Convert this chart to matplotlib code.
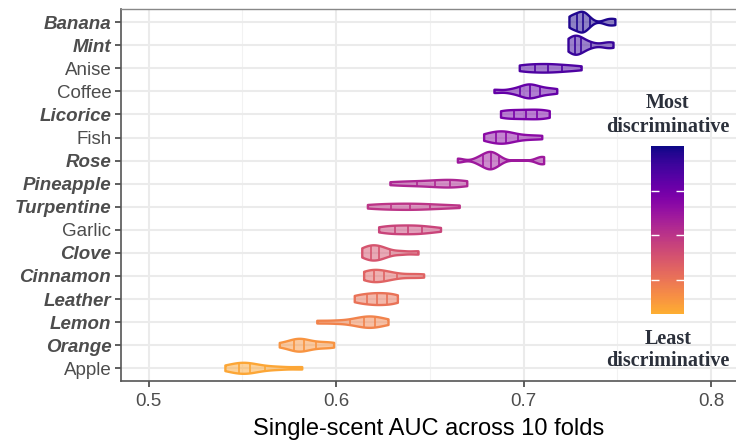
import numpy as np
import matplotlib
matplotlib.use("Agg")
import matplotlib.pyplot as plt
from matplotlib.colors import ListedColormap, Normalize
from matplotlib.cm import ScalarMappable

# ---------------- data ----------------
scents = ["Banana", "Mint", "Anise", "Coffee", "Licorice", "Fish", "Rose",
          "Pineapple", "Turpentine", "Garlic", "Clove", "Cinnamon",
          "Leather", "Lemon", "Orange", "Apple"]
bold_labels = [True, True, False, False, True, False, True, True, True,
               False, True, True, True, True, True, False]

# single-scent AUC per fold (10 folds)
auc_banana = [0.7245, 0.726, 0.728, 0.730, 0.731, 0.732, 0.733, 0.735, 0.745, 0.749]
auc_mint = [0.724, 0.725, 0.727, 0.728, 0.729, 0.730, 0.732, 0.736, 0.744, 0.748]
auc_anise = [0.698, 0.700, 0.704, 0.708, 0.711, 0.714, 0.717, 0.721, 0.726, 0.731]
auc_coffee = [0.6845, 0.694, 0.699, 0.701, 0.703, 0.704, 0.706, 0.709, 0.713, 0.718]
auc_licorice = [0.688, 0.690, 0.693, 0.697, 0.700, 0.703, 0.706, 0.709, 0.712, 0.714]
auc_fish = [0.679, 0.682, 0.685, 0.687, 0.689, 0.691, 0.693, 0.697, 0.703, 0.710]
auc_rose = [0.665, 0.676, 0.679, 0.681, 0.682, 0.683, 0.685, 0.687, 0.709, 0.711]
auc_pineapple = [0.629, 0.636, 0.642, 0.648, 0.653, 0.657, 0.660, 0.663, 0.666, 0.670]
auc_turpentine = [0.617, 0.622, 0.627, 0.632, 0.637, 0.641, 0.645, 0.650, 0.657, 0.666]
auc_garlic = [0.623, 0.627, 0.630, 0.633, 0.637, 0.640, 0.643, 0.646, 0.650, 0.656]
auc_clove = [0.614, 0.616, 0.618, 0.620, 0.621, 0.623, 0.625, 0.628, 0.635, 0.644]
auc_cinnamon = [0.615, 0.617, 0.619, 0.621, 0.623, 0.625, 0.628, 0.632, 0.640, 0.647]
auc_leather = [0.610, 0.613, 0.616, 0.619, 0.621, 0.623, 0.626, 0.628, 0.631, 0.633]
auc_lemon = [0.590, 0.600, 0.608, 0.612, 0.615, 0.617, 0.619, 0.621, 0.624, 0.628]
auc_orange = [0.570, 0.576, 0.578, 0.580, 0.581, 0.583, 0.586, 0.590, 0.595, 0.599]
auc_apple = [0.541, 0.545, 0.548, 0.550, 0.552, 0.554, 0.557, 0.562, 0.570, 0.582]

auc_folds = [auc_banana, auc_mint, auc_anise, auc_coffee, auc_licorice, auc_fish,
             auc_rose, auc_pineapple, auc_turpentine, auc_garlic, auc_clove,
             auc_cinnamon, auc_leather, auc_lemon, auc_orange, auc_apple]

x_ticks = [0.5, 0.6, 0.7, 0.8]
x_minor = [0.55, 0.65, 0.75]
quantile_levels = [0.25, 0.5, 0.75]
legend_breaks = [0.2, 0.47, 0.73]

# ---------------- helpers ----------------
def violin_density(vals):
    x = np.asarray(vals, dtype=float)
    n = len(x)
    sd = x.std(ddof=1)
    q75, q25 = np.percentile(x, [75, 25])
    bw = 0.9 * min(sd, (q75 - q25) / 1.34) * n ** -0.2
    grid = np.linspace(x.min(), x.max(), 512)
    d = np.exp(-0.5 * ((grid[:, None] - x[None, :]) / bw) ** 2).sum(1)
    d /= n * bw * np.sqrt(2 * np.pi)
    return grid, d

plasma = plt.get_cmap("plasma")
n_sc = len(scents)
colors = [plasma(0.03 + 0.77 * i / (n_sc - 1)) for i in range(n_sc)]

# ---------------- figure ----------------
fig = plt.figure(figsize=(7.36, 4.41), dpi=100)
ax = fig.add_axes([121 / 736, 1 - 381 / 441, 1 - 121 / 736, (381 - 9) / 441])

dens = [violin_density(v) for v in auc_folds]
dmax = max(d.max() for _, d in dens)

for i, ((g, d), col) in enumerate(zip(dens, colors)):
    hw = 0.45 * d / dmax
    xs = np.concatenate([g, g[::-1]])
    ys = np.concatenate([i - hw, (i + hw)[::-1]])
    ax.fill(xs, ys, facecolor=col[:3] + (0.5,), edgecolor=col, linewidth=1.7,
            joinstyle="round", zorder=3)
    ecdf = np.cumsum(d) / d.sum()
    qx = np.interp(quantile_levels, ecdf, g)
    qhw = np.interp(qx, g, hw)
    ax.vlines(qx, i - qhw, i + qhw, color=col, linewidth=1.2, zorder=4)

ax.set_xlim(0.48533, 0.81333)
ax.set_ylim(n_sc - 1 + 0.55, -0.57)
ax.set_xticks(x_ticks)
ax.set_xticklabels([f"{t:g}" for t in x_ticks])
ax.set_xticks(x_minor, minor=True)
ax.set_yticks(range(n_sc))
ax.set_yticklabels(scents)

lab_font = "Liberation Sans"
for lab, b in zip(ax.get_yticklabels(), bold_labels):
    lab.set_fontfamily(lab_font)
    lab.set_fontsize(13.5)
    lab.set_color("#4D4D4D")
    if b:
        lab.set_fontweight("bold")
        lab.set_fontstyle("italic")
for lab in ax.get_xticklabels():
    lab.set_fontfamily(lab_font)
    lab.set_fontsize(13.5)
    lab.set_color("#4D4D4D")

ax.grid(True, which="major", color="#EBEBEB", linewidth=1.5, zorder=0)
ax.grid(True, which="minor", axis="x", color="#F2F2F2", linewidth=0.8, zorder=0)
ax.set_axisbelow(True)
ax.tick_params(axis="both", which="major", length=4, width=1.1, color="#333333", pad=3)
ax.tick_params(axis="x", which="major", pad=4.5)
ax.tick_params(axis="x", which="minor", length=0)
for side in ["left", "bottom"]:
    ax.spines[side].set_color("#555555")
    ax.spines[side].set_linewidth(1.2)
ax.spines["top"].set_color("#888888")
ax.spines["top"].set_linewidth(1.0)
ax.spines["right"].set_visible(False)

ax.set_xlabel("Single-scent AUC across 10 folds", fontfamily=lab_font,
              fontsize=17, color="black", labelpad=6)

# ---------------- colour legend ----------------
cax = fig.add_axes([651 / 736, 1 - 314 / 441, 33 / 736, 168 / 441])
cmap = ListedColormap(plasma(np.linspace(0.82, 0.0, 256)))
cb = fig.colorbar(ScalarMappable(norm=Normalize(0, 1), cmap=cmap), cax=cax,
                  ticks=legend_breaks)
cb.outline.set_visible(False)
cax.tick_params(axis="y", direction="in", color="white", length=6, width=1.0,
                left=True, right=True, labelleft=False, labelright=False)

leg_kw = dict(fontfamily="Liberation Serif", fontweight="bold", fontsize=14.5,
              color="#2B303B", ha="center", va="center", linespacing=1.2)
fig.text(668 / 736, 1 - 115 / 441, "Most\ndiscriminative", **leg_kw)
fig.text(668 / 736, 1 - 350 / 441, "Least\ndiscriminative", **leg_kw)

fig.savefig("out.png", dpi=100)
